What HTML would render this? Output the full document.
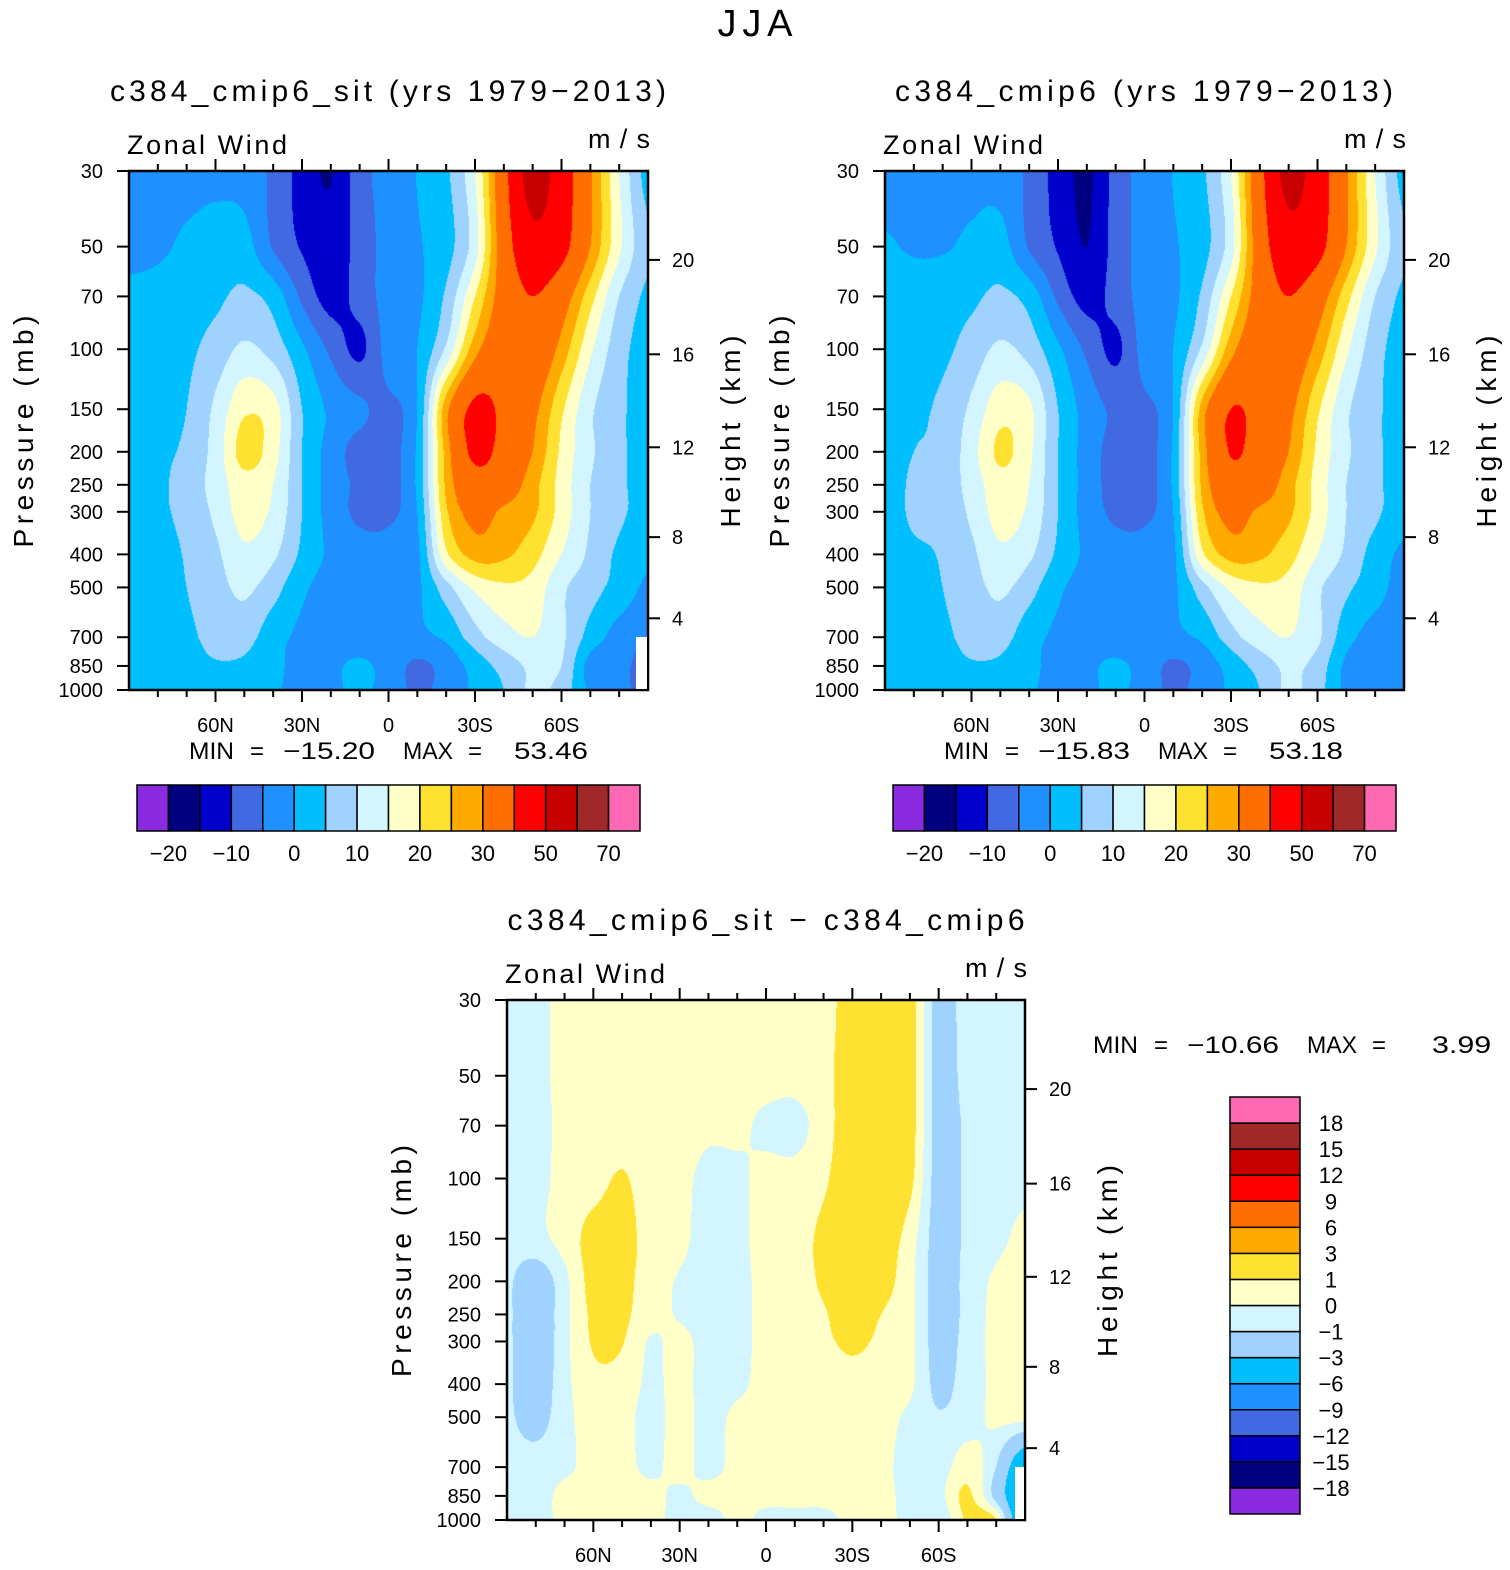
<!DOCTYPE html>
<html><head><meta charset="utf-8"><style>
html,body{margin:0;padding:0;background:#fff;}
#wrap{position:relative;width:1510px;height:1570px;overflow:hidden;font-family:"Liberation Sans",sans-serif;}
canvas{position:absolute;}
svg{position:absolute;left:0;top:0;}
</style></head><body>
<div id="wrap">
<canvas id="c1" width="519" height="519" style="left:129px;top:171px"></canvas>
<canvas id="c2" width="519" height="519" style="left:885px;top:171px"></canvas>
<canvas id="c3" width="518" height="520" style="left:507px;top:1000px"></canvas>
<svg id="ov" width="1510" height="1570"></svg>
</div>
<script>
const latLabels = ["60N","30N","0","30S","60S"];
const latLabelIdx = [3,6,9,12,15];
const pLevels = [30,50,70,100,150,200,250,300,400,500,700,850,1000];
const pTickLabels = ["30","50","70","100","150","200","250","300","400","500","700","850","1000"];
const kmTicks = ["20","16","12","8","4"];
const kmPressure = [54.7,103.5,194,356,616];
const levelsFull = [-20,-15,-10,-5,0,5,10,15,20,25,30,40,50,60,70];
const levelsFullLabels = ["−20","−10","0","10","20","30","50","70"];
const levelsFullLabelIdx = [0,2,4,6,8,10,12,14];
const levelsDiff = [-18,-15,-12,-9,-6,-3,-1,0,1,3,6,9,12,15,18];
const levelsDiffLabels = ["−18","−15","−12","−9","−6","−3","−1","0","1","3","6","9","12","15","18"];
const colors = ["#8a2be2","#000080","#0000cd","#4169e1","#1e90ff","#00bfff","#a0d2ff","#d2f5ff","#ffffc8","#ffe132","#ffaa00","#ff6e00","#ff0000","#c80000","#a02828","#ff69b4"];

const fieldSit = [
[-2,-2,-2,-1.5,-2,-6,-12,-15.3,-7,-3,0.2,4,15,37,54,45,31,15,3],
[-2,-1,1,2.5,2,-5.5,-10.5,-13,-8,-3,-0.5,3,13,35,47,43,30,16,6],
[1.5,2,3,4,6,3,-6,-12,-8,-3,-1,6,20,34,40,34,22,10,4],
[2,3,4,7,11,8,1,-6,-11,-3,0,11,28,36,37,28,16,7,3],
[2,3,5,11,19,17,5,-1,-4,-6,0,28,42,38,32,21,11,6,3],
[2,4,6,12,22,17,5,-2,-7,-7,1,27,42,37,30,19,11,6,3],
[2,4,7,12,18,15,5,-2,-6,-7,1,26,36,34,27,18,10,6,3],
[2,4,6.5,11,17,14,5,-2,-6,-6,0,24,32,29,26,18,10,6,3],
[2,3,5.5,9,14,11,4,-1,-3,-3,-1,19,27,26,22,15,9,4,1],
[2,2.5,5,8,11,7,1,-2,-3,-3,-1,8,16,19,18,11,7,3,-1],
[2,3,4,6.5,7,2,-1,-2,-3,-3,-1,1,8,13,15,11,3,-2,-4],
[2,2.5,3,4.5,4,1,-1,-1,1,-2,-6,-3,2,7,11,10,-2,-3,-8],
[1,0.5,1,2,2,0.5,-1,-1,1,-2,-6,-3,1,5,11,8,-1,-3,-8]];

const fieldCmip6 = [
[-2,-2,-2,-1.5,-2,-6,-12,-16,-8,-3,0.2,4,15,37,53,45,31,15,3],
[0.5,-0.5,-0.5,1,2,-5.5,-10.5,-15,-8,-3,-0.5,3,13,35,46,43,30,16,6],
[2,2,3,4,6,3,-6,-12,-8,-3,-1,6,20,34,40,34,22,10,4],
[2,3,4,7,11,8,1,-6,-11,-3,0,11,28,36,36,28,16,7,3],
[2,4,6,11,18,16,5,-2,-6,-6,0,27,40,37,32,21,11,6,3],
[2,5,6,13,21,16,5,-2,-7,-7,1,27,40.5,36,30,19,11,6,3],
[2,6,7,12,18,15,5,-2,-7,-7,1,26,36,34,27,18,10,6,3],
[2,6,6.5,11,17,14,5,-2,-6,-6,0,24,32,29,26,18,10,6,2],
[2,4,5.5,9,14,11,4,-1,-3,-3,-1,19,27,26,22,15,9,3,-1],
[2,3,5,8,11,7,1,-2,-3,-3,-1,8,16,19,18,11,6,2,-2],
[2,3,4,6.5,7,2,-1,-2,-3,-3,-1,1,8,13,15,11,2,-2,-3],
[2,2.5,3,4.5,4,1,-1,-1,1,-2,-6,-3,2,7,11,8,-1,-2,-3],
[1,0.5,1,2,2,0.5,-1,-1,1,-2,-6,-3,1,5,11,7,-1,-2,-3]];

const fieldDiff = [
[-0.5,-0.3,0.3,0.5,0.5,0.5,0.5,0.4,0.4,0.4,0.2,0.6,1.5,2,1.5,-1.5,-0.5,-0.5,-0.5],
[-0.5,-0.3,0.3,0.5,0.5,0.5,0.5,0.4,0.4,0.4,0.3,0.7,1.6,2,1.5,-1.5,-0.6,-0.5,-0.5],
[-0.5,-0.4,0.3,0.5,0.5,0.5,0.5,0.2,0.2,-0.2,-0.3,0.5,1.8,2,1.5,-1.5,-0.8,-0.5,-0.5],
[-0.5,-0.3,0.3,0.6,1.1,0.4,0.3,-0.3,-0.2,0.3,0.3,0.8,2,2.2,1.3,-1.5,-0.8,-0.5,-0.3],
[-0.5,-0.3,0.4,1.4,1.5,0.5,0.3,-0.5,-0.2,0.3,0.5,1.3,2.2,1.8,0.5,-1.5,-0.8,-0.3,0.3],
[-0.8,-1.8,-0.3,1.4,1.3,0.5,-0.1,-0.5,-0.3,0.3,0.5,1.2,2,1.5,0.3,-1.5,-0.7,0.2,0.5],
[-0.8,-2,-0.3,1.2,1.2,0.4,-0.1,-0.5,-0.3,0.3,0.5,0.9,1.6,1,0.3,-1.5,-0.7,0.3,0.5],
[-0.8,-2,-0.3,1.1,1.05,-0.1,0.3,-0.4,-0.3,0.3,0.5,0.8,1.2,0.8,0.3,-1.5,-0.6,0.3,0.5],
[-0.8,-1.8,-0.3,0.7,0.6,-0.2,0.3,-0.4,-0.2,0.3,0.4,0.5,0.6,0.5,0.2,-1.3,-0.5,0.2,0.4],
[-0.8,-1.5,-0.3,0.4,0.3,-0.3,0.3,-0.3,0.2,0.3,0.3,0.4,0.4,0.3,-0.2,-0.9,-0.4,0.2,0.3],
[-0.5,-0.5,-0.2,0.3,0.3,-0.2,0.3,-0.3,0.3,0.3,0.3,0.3,0.3,0.2,-0.3,-0.5,0.5,-1,-5],
[-0.5,-0.5,0.3,0.3,0.3,0.3,-0.2,0.3,0.3,0.3,0.3,0.3,0.3,0.3,-0.3,-0.3,1.2,-1.5,-6],
[-0.5,-0.5,0.3,0.3,0.5,0.3,-0.3,-0.5,0.3,-0.3,-0.3,-0.3,0.3,0.3,-0.3,-0.8,1.2,1,-6]];

function cr(p0,p1,p2,p3,t){return 0.5*(2*p1+(-p0+p2)*t+(2*p0-5*p1+4*p2-p3)*t*t+(-p0+3*p1-3*p2+p3)*t*t*t);}
function sampleRow(row,cf){const n=row.length;let i=Math.min(Math.floor(cf),n-2);const t=cf-i;const g=k=>row[Math.max(0,Math.min(n-1,k))];return cr(g(i-1),g(i),g(i+1),g(i+2),t);}
function sample(grid,rf,cf){const n=grid.length;let i=Math.min(Math.floor(rf),n-2);const t=rf-i;const g=k=>sampleRow(grid[Math.max(0,Math.min(n-1,k))],cf);return cr(g(i-1),g(i),g(i+1),g(i+2),t);}
function hex(c){return [parseInt(c.slice(1,3),16),parseInt(c.slice(3,5),16),parseInt(c.slice(5,7),16)];}
const rgb=colors.map(hex);
function drawField(id,grid,levels){
  const cv=document.getElementById(id),ctx=cv.getContext('2d'),W=cv.width,H=cv.height;
  const img=ctx.createImageData(W,H);const lnP=pLevels.map(Math.log);const lt=lnP[0],lb=lnP[lnP.length-1];
  const nc=grid[0].length;
  for(let py=0;py<H;py++){
    const lp=lt+(py+0.5)/H*(lb-lt);let r=0;while(r<lnP.length-2&&lp>lnP[r+1])r++;
    const rf=r+(lp-lnP[r])/(lnP[r+1]-lnP[r]);
    for(let px=0;px<W;px++){
      const cf=(px+0.5)/W*(nc-1);const v=sample(grid,rf,cf);
      let idx=0;while(idx<levels.length&&v>=levels[idx])idx++;
      const c=rgb[idx],o=(py*W+px)*4;img.data[o]=c[0];img.data[o+1]=c[1];img.data[o+2]=c[2];img.data[o+3]=255;
    }
  }
  ctx.putImageData(img,0,0);
}
drawField('c1',fieldSit,levelsFull);
drawField('c2',fieldCmip6,levelsFull);
drawField('c3',fieldDiff,levelsDiff);

const NS="http://www.w3.org/2000/svg";const ov=document.getElementById('ov');
function el(tag,attrs){const e=document.createElementNS(NS,tag);for(const k in attrs)e.setAttribute(k,attrs[k]);ov.appendChild(e);return e;}
function txt(x,y,s,size,anchor,extra){const e=el('text',Object.assign({x:x,y:y,'font-size':size,'text-anchor':anchor||'start','font-family':'"Liberation Sans",sans-serif',fill:'#000'},extra||{}));e.textContent=s;return e;}

function minmax(x0,y,minStr,maxStr,maxOff){
  const parts=[[0,'MIN',45],[61,'=',14],[94,minStr,92],[214,'MAX',50],[279,'=',14],[maxOff,maxStr,maxStr.length*14.8]];
  parts.forEach(p=>{
    let t=txt(x0+p[0],y,p[1],24,'start',{textLength:p[2],lengthAdjust:'spacingAndGlyphs'});
    
    
  });
}

function panel(ox,oy,W,H,title,tcx,tlen){
  const yOf=p=>oy+H*Math.log(p/30)/Math.log(1000/30);
  const xOf=i=>ox+W*i/18;
  let b=el('rect',{x:ox,y:oy,width:W,height:H,fill:'none',stroke:'#000','stroke-width':2.5});
  
  
  for(let i=1;i<18;i++){
    const major=(i%3===0);const L=major?12:7;const x=xOf(i);
    let t1=el('line',{x1:x,y1:oy,x2:x,y2:oy-L,stroke:'#000','stroke-width':2});
    
    
    let t2=el('line',{x1:x,y1:oy+H,x2:x,y2:oy+H+L,stroke:'#000','stroke-width':2});
    
    
  }
  latLabels.forEach((s,j)=>{
    let t=txt(xOf(latLabelIdx[j]),oy+H+42,s,20,'middle');
    
    
  });
  pLevels.forEach((p,j)=>{
    const y=yOf(p);
    let tk=el('line',{x1:ox,y1:y,x2:ox-12,y2:y,stroke:'#000','stroke-width':2});
    
    
    let t=txt(ox-26,y+7,pTickLabels[j],20,'end');
    
    
  });
  kmPressure.forEach((p,j)=>{
    const y=yOf(p);
    let tk=el('line',{x1:ox+W,y1:y,x2:ox+W+12,y2:y,stroke:'#000','stroke-width':2});
    
    
    let t=txt(ox+W+24,y+7,kmTicks[j],20,'start');
    
    
  });
  let tt=txt(tcx,oy-70,title,30,'middle',{textLength:tlen,lengthAdjust:'spacing'});
  
  
  let zw=txt(ox-2,oy-17,'Zonal Wind',27,'start',{textLength:160,lengthAdjust:'spacing'});
  
  
  let ms=txt(ox+W+2,oy-23,'m/s',27,'end',{textLength:62,lengthAdjust:'spacing'});
  
  
  let yl=txt(0,0,'Pressure (mb)',28,'middle',{transform:`translate(${ox-96},${oy+H/2+1}) rotate(-90)`,textLength:232,lengthAdjust:'spacing'});
  
  
  let hl=txt(0,0,'Height (km)',28,'middle',{transform:`translate(${ox+W+92},${oy+H/2+1}) rotate(-90)`,textLength:192,lengthAdjust:'spacing'});
  
  
}
panel(129,171,519,519,'c384_cmip6_sit (yrs 1979−2013)',388,556);
panel(885,171,519,519,'c384_cmip6 (yrs 1979−2013)',1144,498);
panel(507,1000,518,520,'c384_cmip6_sit − c384_cmip6',766,517);
minmax(189,759,'−15.20','53.46',325);
minmax(944,759,'−15.83','53.18',325);
minmax(1093,1053,'−10.66','3.99',339);

let m1=el('rect',{x:636,y:637,width:11,height:52,fill:'#fff'});


let m3=el('rect',{x:1015,y:1467,width:9,height:52,fill:'#fff'});



let sup=txt(755,36,'JJA',38,'middle',{textLength:75,lengthAdjust:'spacing'});



function hbar(x0,y0,w,h){
  const bw=w/16;
  colors.forEach((c,i)=>{
    let r=el('rect',{x:x0+i*bw,y:y0,width:bw,height:h,fill:c,stroke:'#000','stroke-width':1.5});
    
    
  });
  levelsFullLabels.forEach((s,j)=>{
    let t=txt(x0+(levelsFullLabelIdx[j]+1)*bw,y0+h+30,s,22,'middle');
    
    
  });
}
hbar(137,785,503,46);
hbar(893,785,503,46);
function vbar(x0,y0,w,h){
  const bh=h/16;
  colors.forEach((c,i)=>{
    let r=el('rect',{x:x0,y:y0+(15-i)*bh,width:w,height:bh,fill:c,stroke:'#000','stroke-width':1.5});
    
    
  });
  levelsDiffLabels.forEach((s,j)=>{
    let t=txt(x0+w+31,y0+(15-j)*bh+8,s,22,'middle');
    
    
  });
}
vbar(1230,1097,70,417);
</script>
</body></html>
